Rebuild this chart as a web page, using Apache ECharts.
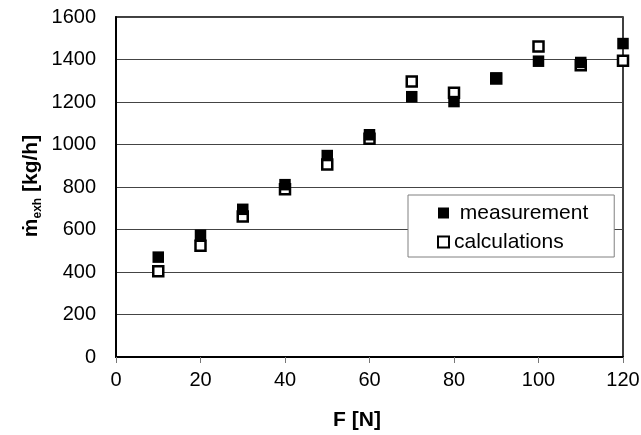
<!DOCTYPE html>
<html>
<head>
<meta charset="utf-8">
<script src="https://cdn.jsdelivr.net/npm/echarts@6/dist/echarts.min.js"></script>
<style>
html,body{margin:0;padding:0;background:#fff;}
#chart{width:641px;height:435px;}
</style>
</head>
<body>
<div id="chart"></div>
<script>
var forceN = [10, 20, 30, 40, 50, 60, 70, 80, 90, 100, 110, 120];
var measurement = [470, 573, 695, 811, 948, 1046, 1225, 1202, 1312, 1392, 1386, 1475];
var calculations = [403, 524, 661, 790, 906, 1027, 1297, 1244, 1311, 1461, 1373, 1394];
var seriesNames = ['measurement', 'calculations'];
var xTitle = 'F [N]';

function pairs(xs, ys) { return xs.map(function (x, i) { return [x, ys[i]]; }); }
function plain(v) { return String(v); }

var FONT = '"Liberation Sans", Arial, sans-serif';
var chart = echarts.init(document.getElementById('chart'), null, {renderer: 'canvas'});
chart.setOption({
  animation: false,
  backgroundColor: '#fff',
  grid: {left: 116, right: 18, top: 17, bottom: 78, show: true, borderColor: '#000', borderWidth: 1.5, outerBoundsMode: 'none'},
  xAxis: {
    type: 'value', min: 0, max: 120, interval: 20,
    axisLine: {show: true, lineStyle: {color: '#000', width: 2}},
    axisTick: {show: true, inside: false, length: 6, lineStyle: {color: '#777', width: 1}},
    splitLine: {show: false},
    axisLabel: {color: '#000', fontSize: 20, fontFamily: FONT, margin: 13, formatter: plain}
  },
  yAxis: {
    type: 'value', min: 0, max: 1600, interval: 200,
    axisLine: {show: true, lineStyle: {color: '#000', width: 2}},
    axisTick: {show: false},
    splitLine: {show: true, lineStyle: {color: '#444', width: 1}},
    axisLabel: {color: '#000', fontSize: 20, fontFamily: FONT, margin: 20, formatter: plain}
  },
  legend: {
    data: seriesNames,
    orient: 'vertical',
    left: 408, top: 195,
    padding: [7, 26, 4, 29],
    itemGap: 7,
    itemWidth: 11, itemHeight: 11,
    backgroundColor: '#fff',
    borderColor: '#808080', borderWidth: 1,
    borderRadius: 0,
    formatter: function (n) { return n === 'measurement' ? ' ' + n : n; },
    textStyle: {color: '#000', fontSize: 21, fontFamily: FONT, lineHeight: 22}
  },
  graphic: [
    {
      type: 'text', x: 357, y: 420,
      style: {text: xTitle, fill: '#000', font: 'bold 21px ' + FONT, align: 'center', verticalAlign: 'middle'}
    },
    {
      type: 'text', x: 31, y: 186, rotation: Math.PI / 2,
      style: {
        text: '{a|ṁ}{s|exh}{a| [kg/h]}',
        align: 'center', verticalAlign: 'middle',
        rich: {
          a: {fontSize: 21, fontWeight: 'bold', fontFamily: FONT, fill: '#000', lineHeight: 26},
          s: {fontSize: 12, fontWeight: 'bold', fontFamily: FONT, fill: '#000', lineHeight: 13, verticalAlign: 'bottom'}
        }
      }
    }
  ],
  series: [
    {
      name: 'measurement', type: 'scatter', z: 3,
      symbol: 'rect', symbolSize: 11.5,
      itemStyle: {color: '#000', opacity: 1},
      data: pairs(forceN, measurement)
    },
    {
      name: 'calculations', type: 'scatter', z: 2,
      symbol: 'rect', symbolSize: 10,
      itemStyle: {color: '#fff', borderColor: '#000', borderWidth: 2.5, opacity: 1},
      data: pairs(forceN, calculations)
    }
  ]
});
</script>
</body>
</html>
